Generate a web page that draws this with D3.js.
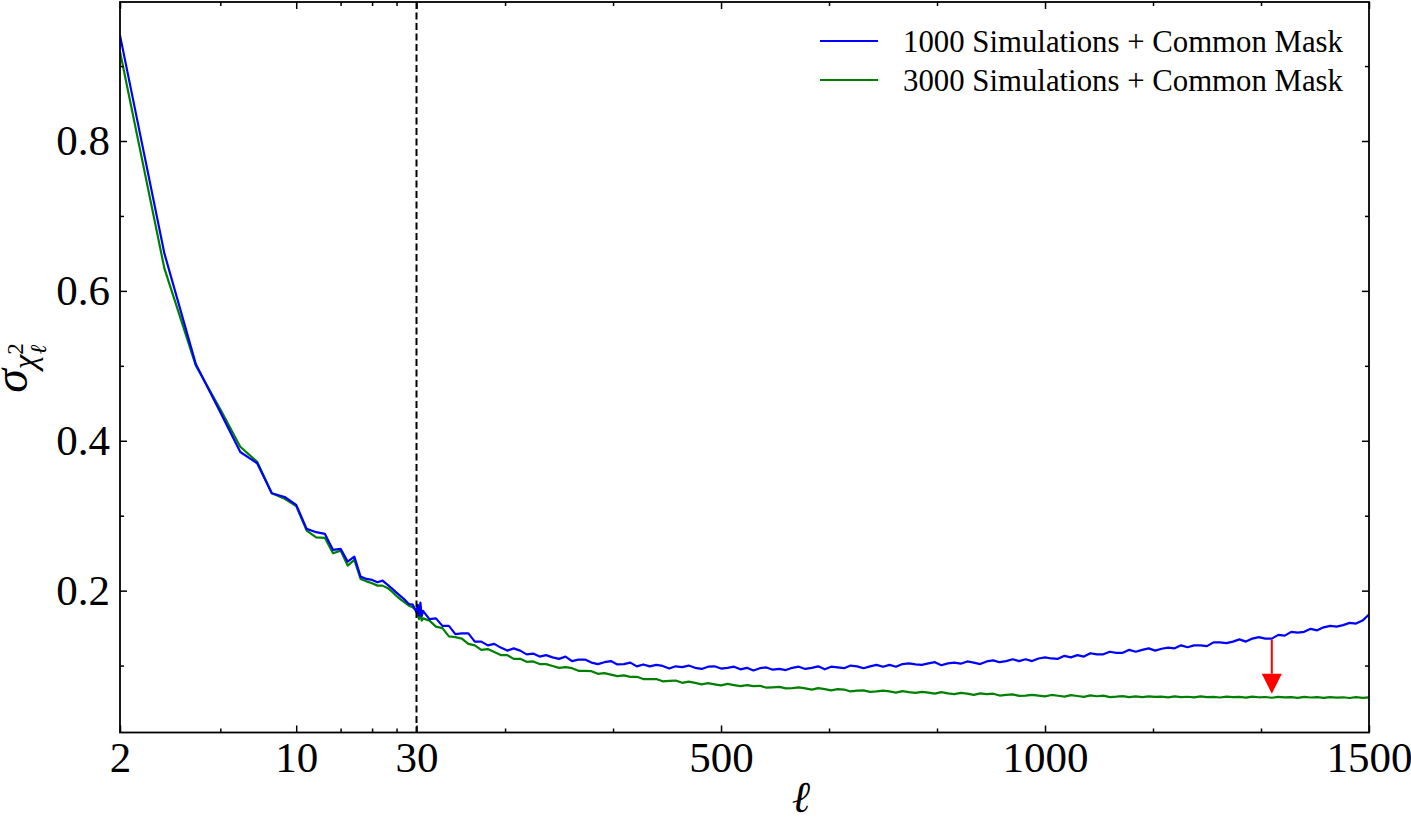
<!DOCTYPE html>
<html>
<head>
<meta charset="utf-8">
<script src="https://cdn.jsdelivr.net/npm/d3@7"></script>
<style>
  body { margin: 0; background: #fff; }
  svg text { font-family: "Liberation Serif", "DejaVu Serif", serif; fill: #000; }
</style>
</head>
<body>
<svg class="chart" width="1411" height="823"></svg>
<script>
// multipoles 2..30 (log part of the axis)
var ellLow = [2,3,4,5,6,7,8,9,10,11,12,13,14,15,16,17,18,19,20,21,22,23,24,25,26,27,28,29,30];
var blueLow = [0.941,0.650,0.502,0.438,0.385,0.370,0.330,0.325,0.3145,0.2824,0.278,0.2757,0.2544,0.2557,0.2387,0.2454,
  0.2187,0.2156,0.2143,0.2111,0.2134,0.2080,0.2027,0.1973,0.1924,0.1876,0.1822,0.1813,0.1710];
var greenLow = [0.919,0.630,0.500,0.442,0.392,0.372,0.330,0.3225,0.3127,0.2802,0.2712,0.2704,0.2498,0.2534,0.2334,0.2410,
  0.2156,0.2124,0.2098,0.2067,0.2067,0.2036,0.1987,0.1929,0.1880,0.1840,0.1800,0.1777,0.1733];

// just after the split
var ellSpike = [32,34,36,38];
var blueSpike = [0.181,0.167,0.184,0.166];
var greenSpike = [0.168,0.162,0.170,0.160];

// linear part, read every 10 multipoles from 40 to 1500
var ellHigh = d3.range(40, 1501, 10);
var blueHigh = [
  0.173,0.162,0.163,0.153,0.153,0.142,0.143,0.143,0.132,0.132,0.127,0.129,0.124,0.120,0.123,0.120,0.115,
  0.116,0.112,0.114,0.111,0.109,0.112,0.106,0.108,0.108,0.104,0.102,0.1045,0.106,0.1015,0.102,0.104,0.099,0.1015,0.099,
  0.101,0.0995,0.096,0.099,0.098,0.100,0.097,0.0955,0.0985,0.099,0.096,
  0.097,0.0985,0.095,0.097,0.0935,0.0965,0.0975,0.0945,0.0955,0.094,0.097,0.0985,0.0955,0.097,0.099,0.095,0.0985,0.0975,
  0.0965,0.100,0.099,0.0965,0.099,0.101,0.0985,0.101,0.0985,0.102,0.103,0.1015,
  0.101,0.103,0.1045,0.1005,0.103,0.104,0.1025,0.1055,0.104,0.102,0.1055,0.107,0.1045,0.106,0.1085,0.106,0.1085,0.106,
  0.1095,0.111,0.1095,0.109,0.113,0.111,0.114,0.112,0.1165,0.115,0.115,0.1185,
  0.117,0.117,0.121,0.1185,0.121,0.123,0.120,0.1225,0.124,0.123,0.127,0.1245,0.127,0.127,0.126,0.131,0.131,0.130,0.132,0.135,
  0.132,0.136,0.138,0.136,0.136,0.141,0.140,0.145,0.144,0.145,0.149,0.147,0.151,0.153,0.152,0.154,0.157,0.156,0.160,0.168];
var greenHigh = [
  0.163,0.160,0.152,0.150,0.139,0.138,0.136,0.129,0.127,0.121,0.122,0.118,0.114,0.114,0.109,0.109,0.105,
  0.1055,0.102,0.102,0.0995,0.097,0.098,0.0965,0.093,0.093,0.0925,0.089,0.090,0.088,0.086,0.087,0.085,0.085,0.082,0.082,
  0.082,0.079,0.0795,0.080,0.077,0.0785,0.077,0.075,0.0765,0.075,0.0735,
  0.0755,0.074,0.0725,0.074,0.0725,0.073,0.0705,0.071,0.0715,0.0695,0.070,0.071,0.0695,0.068,0.070,0.0685,0.067,0.0685,
  0.068,0.0655,0.0665,0.067,0.065,0.0655,0.0665,0.0655,0.064,0.066,0.0645,0.0635,
  0.065,0.064,0.0625,0.0645,0.063,0.062,0.0635,0.0625,0.061,0.063,0.062,0.0625,0.060,0.061,0.0615,0.0595,0.060,0.061,
  0.060,0.059,0.0608,0.0597,0.0586,0.0605,0.0594,0.0583,0.0602,0.0591,0.060,0.058,
  0.0585,0.0592,0.0580,0.0588,0.0578,0.0590,0.0582,0.0586,0.0575,0.0588,0.0580,0.0584,0.0576,0.0589,0.0579,0.0583,0.0574,
  0.0586,0.0578,0.0582,0.0572,0.0585,0.0577,0.0581,0.0571,0.0583,0.0576,0.0580,0.0570,0.0582,0.0574,0.0579,0.0568,0.0580,
  0.0572,0.0577,0.0567,0.0578,0.0570,0.0575];

var xTicksLog = [2, 10, 30];
var xMinorLog = [5, 15, 20, 25];
var xTicksLin = [500, 1000, 1500];
var xMinorLin = [500/3, 1000/3, 2000/3, 2500/3, 3500/3, 4000/3];
var yTicks = [0.2, 0.4, 0.6, 0.8];
var yMinor = [0.1, 0.3, 0.5, 0.7, 0.9];

var seriesNames = ["1000 Simulations + Common Mask", "3000 Simulations + Common Mask"];
var seriesColors = ["#0000ff", "#008000"];

var splitEll = 30;
var arrowEll = 1350, arrowFrom = 0.135, arrowTo = 0.0625;

var svg = d3.select(".chart"),
    mLeft = 120, mRight = 1369, mTop = 2, mBottom = 732.5;

var xLog = d3.scaleLog().domain([2, splitEll]).range([mLeft, 416.5]);
var xLin = d3.scaleLinear().domain([splitEll, 1500]).range([416.5, mRight]);
function x(v) { return v <= splitEll ? xLog(v) : xLin(v); }

var y = d3.scaleLinear().domain([0.0107, 0.9855]).range([mBottom, mTop]);

var ell = ellLow.concat(ellSpike, ellHigh);
var series = [blueLow.concat(blueSpike, blueHigh), greenLow.concat(greenSpike, greenHigh)];

svg.append("clipPath").attr("id", "clip")
  .append("rect").attr("x", mLeft).attr("y", mTop).attr("width", mRight - mLeft).attr("height", mBottom - mTop);

var line = d3.line()
    .x(function(d) { return x(d[0]); })
    .y(function(d) { return y(d[1]); });

// green first, blue over it
[1, 0].forEach(function(k) {
  svg.append("path")
      .datum(ell.map(function(e, i) { return [e, series[k][i]]; }))
      .attr("clip-path", "url(#clip)")
      .attr("fill", "none")
      .attr("stroke", seriesColors[k])
      .attr("stroke-width", 2.2)
      .attr("stroke-linejoin", "round")
      .attr("d", line);
});

// dashed split at l = 30
svg.append("line")
    .attr("x1", x(splitEll)).attr("x2", x(splitEll))
    .attr("y1", mTop).attr("y2", mBottom)
    .attr("stroke", "#000")
    .attr("stroke-width", 2)
    .attr("stroke-dasharray", "7,3.5");

// red arrow
var ax = x(arrowEll), ay0 = y(arrowFrom), ay1 = y(arrowTo), headLen = 20, headW = 10;
svg.append("line")
    .attr("x1", ax).attr("x2", ax)
    .attr("y1", ay0).attr("y2", ay1 - headLen)
    .attr("stroke", "#ff0000")
    .attr("stroke-width", 2);
svg.append("path")
    .attr("fill", "#ff0000")
    .attr("d", "M" + (ax - headW) + "," + (ay1 - headLen) + "L" + (ax + headW) + "," + (ay1 - headLen) + "L" + ax + "," + ay1 + "Z");

// axes, ticks pointing inward on all four sides
function styleAxis(g, size) {
  g.select(".domain").remove();
  g.selectAll(".tick line").attr("stroke", "#000").attr("stroke-width", 1.5);
  g.selectAll(".tick text").attr("font-size", size + "px").attr("font-family", null);
}

[[xLog, xTicksLog, xMinorLog], [xLin, xTicksLin, xMinorLin]].forEach(function(s) {
  svg.append("g")
      .attr("transform", "translate(0," + mBottom + ")")
      .call(d3.axisBottom(s[0]).tickValues(s[1]).tickSize(-7).tickPadding(9).tickFormat(d3.format("d")))
      .call(styleAxis, 43);
  svg.append("g")
      .attr("transform", "translate(0," + mBottom + ")")
      .call(d3.axisBottom(s[0]).tickValues(s[2]).tickSize(-4).tickFormat(""))
      .call(styleAxis, 43);
  svg.append("g")
      .attr("transform", "translate(0," + mTop + ")")
      .call(d3.axisTop(s[0]).tickValues(s[1]).tickSize(-7).tickFormat(""))
      .call(styleAxis, 43);
  svg.append("g")
      .attr("transform", "translate(0," + mTop + ")")
      .call(d3.axisTop(s[0]).tickValues(s[2]).tickSize(-4).tickFormat(""))
      .call(styleAxis, 43);
});

svg.append("g")
    .attr("transform", "translate(" + mLeft + ",0)")
    .call(d3.axisLeft(y).tickValues(yTicks).tickSize(-7).tickPadding(10).tickFormat(d3.format(".1f")))
    .call(styleAxis, 43);
svg.append("g")
    .attr("transform", "translate(" + mLeft + ",0)")
    .call(d3.axisLeft(y).tickValues(yMinor).tickSize(-4).tickFormat(""))
    .call(styleAxis, 43);
svg.append("g")
    .attr("transform", "translate(" + mRight + ",0)")
    .call(d3.axisRight(y).tickValues(yTicks).tickSize(-7).tickFormat(""))
    .call(styleAxis, 43);
svg.append("g")
    .attr("transform", "translate(" + mRight + ",0)")
    .call(d3.axisRight(y).tickValues(yMinor).tickSize(-4).tickFormat(""))
    .call(styleAxis, 43);

// frame
svg.append("rect")
    .attr("x", mLeft).attr("y", mTop)
    .attr("width", mRight - mLeft).attr("height", mBottom - mTop)
    .attr("fill", "none")
    .attr("stroke", "#000")
    .attr("stroke-width", 1.8);

// axis labels
svg.append("text")
    .attr("x", 801).attr("y", 812)
    .attr("text-anchor", "middle")
    .attr("font-size", "44px")
    .attr("font-style", "italic")
    .text("\u2113");

var yl = svg.append("text")
    .attr("transform", "translate(27,368) rotate(-90)")
    .attr("text-anchor", "middle");
yl.append("tspan").attr("font-size", "48px").attr("font-style", "italic").text("\u03c3");
yl.append("tspan").attr("font-size", "33px").attr("font-style", "italic").attr("dy", 9).text("\u03c7");
yl.append("tspan").attr("font-size", "23px").attr("dy", -13).text("2");
yl.append("tspan").attr("font-size", "23px").attr("font-style", "italic").attr("dx", -11).attr("dy", 23).text("\u2113");

// legend
var lg = svg.append("g").attr("transform", "translate(820,41)");
seriesNames.forEach(function(name, i) {
  lg.append("line")
      .attr("x1", 0).attr("x2", 58)
      .attr("y1", i * 39).attr("y2", i * 39)
      .attr("stroke", seriesColors[i])
      .attr("stroke-width", 2);
  lg.append("text")
      .attr("x", 83).attr("y", i * 39)
      .attr("dy", "0.35em")
      .attr("font-size", "30.8px")
      .text(name);
});
</script>
</body>
</html>
